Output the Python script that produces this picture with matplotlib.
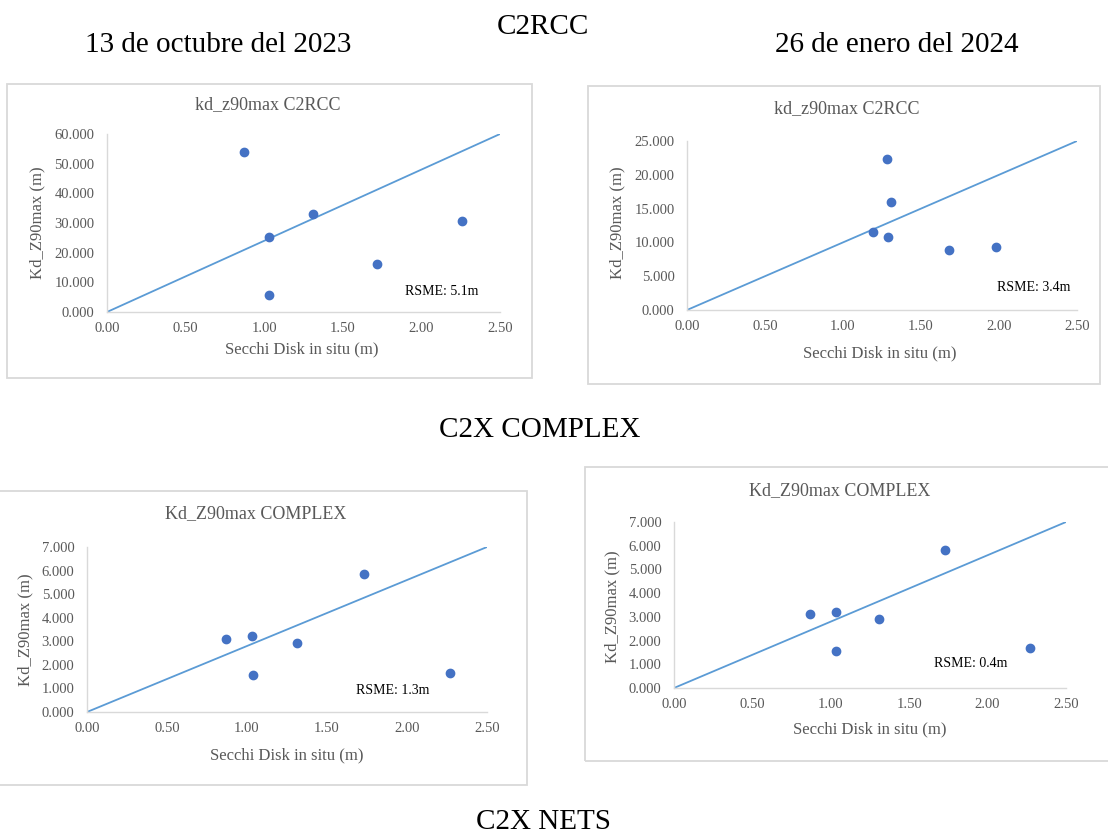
import matplotlib.pyplot as plt
from matplotlib.patches import Rectangle
import numpy as np

# Secchi disk in situ (m) vs Kd_Z90max (m)
secchi_oct_c2rcc = [0.87, 1.03, 1.31, 1.03, 1.72, 2.26]
kd_oct_c2rcc = [53.9, 25.4, 32.9, 5.7, 16.3, 30.8]

secchi_jan_c2rcc = [1.28, 1.31, 1.19, 1.29, 1.68, 1.98]
kd_jan_c2rcc = [22.4, 16.0, 11.6, 10.8, 8.9, 9.3]

secchi_oct_complex = [0.87, 1.03, 1.31, 1.035, 1.73, 2.27]
kd_oct_complex = [3.10, 3.22, 2.91, 1.55, 5.84, 1.66]

secchi_jan_complex = [0.87, 1.03, 1.31, 1.035, 1.73, 2.27]
kd_jan_complex = [3.10, 3.22, 2.92, 1.55, 5.84, 1.67]

# reference lines (start, end)
line_x = [0.0, 2.5]
line_c2rcc_oct = [0.0, 60.0]
line_c2rcc_jan = [0.0, 25.0]
line_complex = [0.0, 7.0]

titles = ['kd_z90max C2RCC', 'kd_z90max C2RCC', 'Kd_Z90max COMPLEX', 'Kd_Z90max COMPLEX']
rsme_labels = ['RSME: 5.1m', 'RSME: 3.4m', 'RSME: 1.3m', 'RSME: 0.4m']
y_max = [60, 25, 7, 7]
y_step = [10, 5, 1, 1]

W, H = 1108, 835
plt.rcParams['font.family'] = ['Liberation Serif', 'DejaVu Serif']

fig = plt.figure(figsize=(W / 100, H / 100), dpi=100)


def fx(px):
    return px / W


def fy(py):
    return 1 - py / H


# chart frames (pixel boxes: x0, y0, x1, y1)
frames = [(7, 84, 532, 378), (588, 86, 1100, 384), (-2, 491, 527, 785), (585, 467, 1112, 761)]
for x0, y0, x1, y1 in frames:
    fig.patches.append(Rectangle((fx(x0), fy(y1)), fx(x1 - x0), (y1 - y0) / H,
                                 transform=fig.transFigure, facecolor='none',
                                 edgecolor='#D9D9D9', lw=1.3, zorder=0))

# plot areas (pixels: left, right, top, bottom)
areas = [(107, 500, 134, 312), (687, 1077, 141, 310), (87, 487, 547, 712), (674, 1066, 522, 688)]
# label placements in axes coords: title, xlabel, ylabel
title_pos = [(0.41, 1.163), (0.41, 1.189), (0.4225, 1.20), (0.423, 1.187)]
xlab_pos = [(0.496, -0.208), (0.495, -0.254), (0.5, -0.26), (0.5, -0.247)]
ylab_pos = [(-0.178, 0.5), (-0.178, 0.515), (-0.155, 0.497), (-0.156, 0.488)]
rsme_pos = [(2.13, 6.8), (2.22, 3.36), (1.91, 0.91), (1.89, 1.02)]

series = [(secchi_oct_c2rcc, kd_oct_c2rcc, line_c2rcc_oct),
          (secchi_jan_c2rcc, kd_jan_c2rcc, line_c2rcc_jan),
          (secchi_oct_complex, kd_oct_complex, line_complex),
          (secchi_jan_complex, kd_jan_complex, line_complex)]

grey = '#595959'
for i, (sx, sy, ly) in enumerate(series):
    l, r, t, b = areas[i]
    ax = fig.add_axes([fx(l), fy(b), fx(r - l), (b - t) / H])
    ax.patch.set_alpha(0)

    ax.plot(line_x, ly, color='#5B9BD5', lw=1.3, zorder=2)
    ax.plot(sx, sy, 'o', color='#4472C4', markersize=6, zorder=3)

    ax.set_xlim(0, 2.5)
    ax.set_ylim(0, y_max[i])
    ax.set_xticks(np.arange(0, 2.51, 0.5))
    ax.set_yticks(np.arange(0, y_max[i] + 0.01, y_step[i]))
    ax.set_xticklabels(['{:.2f}'.format(v) for v in ax.get_xticks()])
    ax.set_yticklabels(['{:.3f}'.format(v) for v in ax.get_yticks()])
    ax.tick_params(length=0, labelsize=10.5, labelcolor=grey)
    ax.tick_params(axis='y', pad=9)
    ax.tick_params(axis='x', pad=7)

    for s in ['top', 'right']:
        ax.spines[s].set_visible(False)
    for s in ['left', 'bottom']:
        ax.spines[s].set_color('#D9D9D9')
        ax.spines[s].set_linewidth(1.0)

    ax.set_xlabel('Secchi Disk in situ (m)', fontsize=12, color=grey)
    ax.set_ylabel('Kd_Z90max (m)', fontsize=12, color=grey)
    ax.xaxis.set_label_coords(*xlab_pos[i])
    ax.yaxis.set_label_coords(*ylab_pos[i])
    ax.xaxis.label.set_va('center')
    ax.yaxis.label.set_va('center')

    ax.text(title_pos[i][0], title_pos[i][1], titles[i], transform=ax.transAxes,
            ha='center', va='center', fontsize=13, color=grey)
    ax.text(rsme_pos[i][0], rsme_pos[i][1], rsme_labels[i], ha='center', va='center',
            fontsize=10, color='black')

# headings
fig.text(fx(543), fy(27), 'C2RCC', ha='center', va='center', fontsize=21)
fig.text(fx(218), fy(45), '13 de octubre del 2023', ha='center', va='center', fontsize=21)
fig.text(fx(897), fy(45), '26 de enero del 2024', ha='center', va='center', fontsize=21)
fig.text(fx(540), fy(430), 'C2X COMPLEX', ha='center', va='center', fontsize=21)
fig.text(fx(543), fy(822), 'C2X NETS', ha='center', va='center', fontsize=21)

fig.savefig('out.png', dpi=100, facecolor='white')
